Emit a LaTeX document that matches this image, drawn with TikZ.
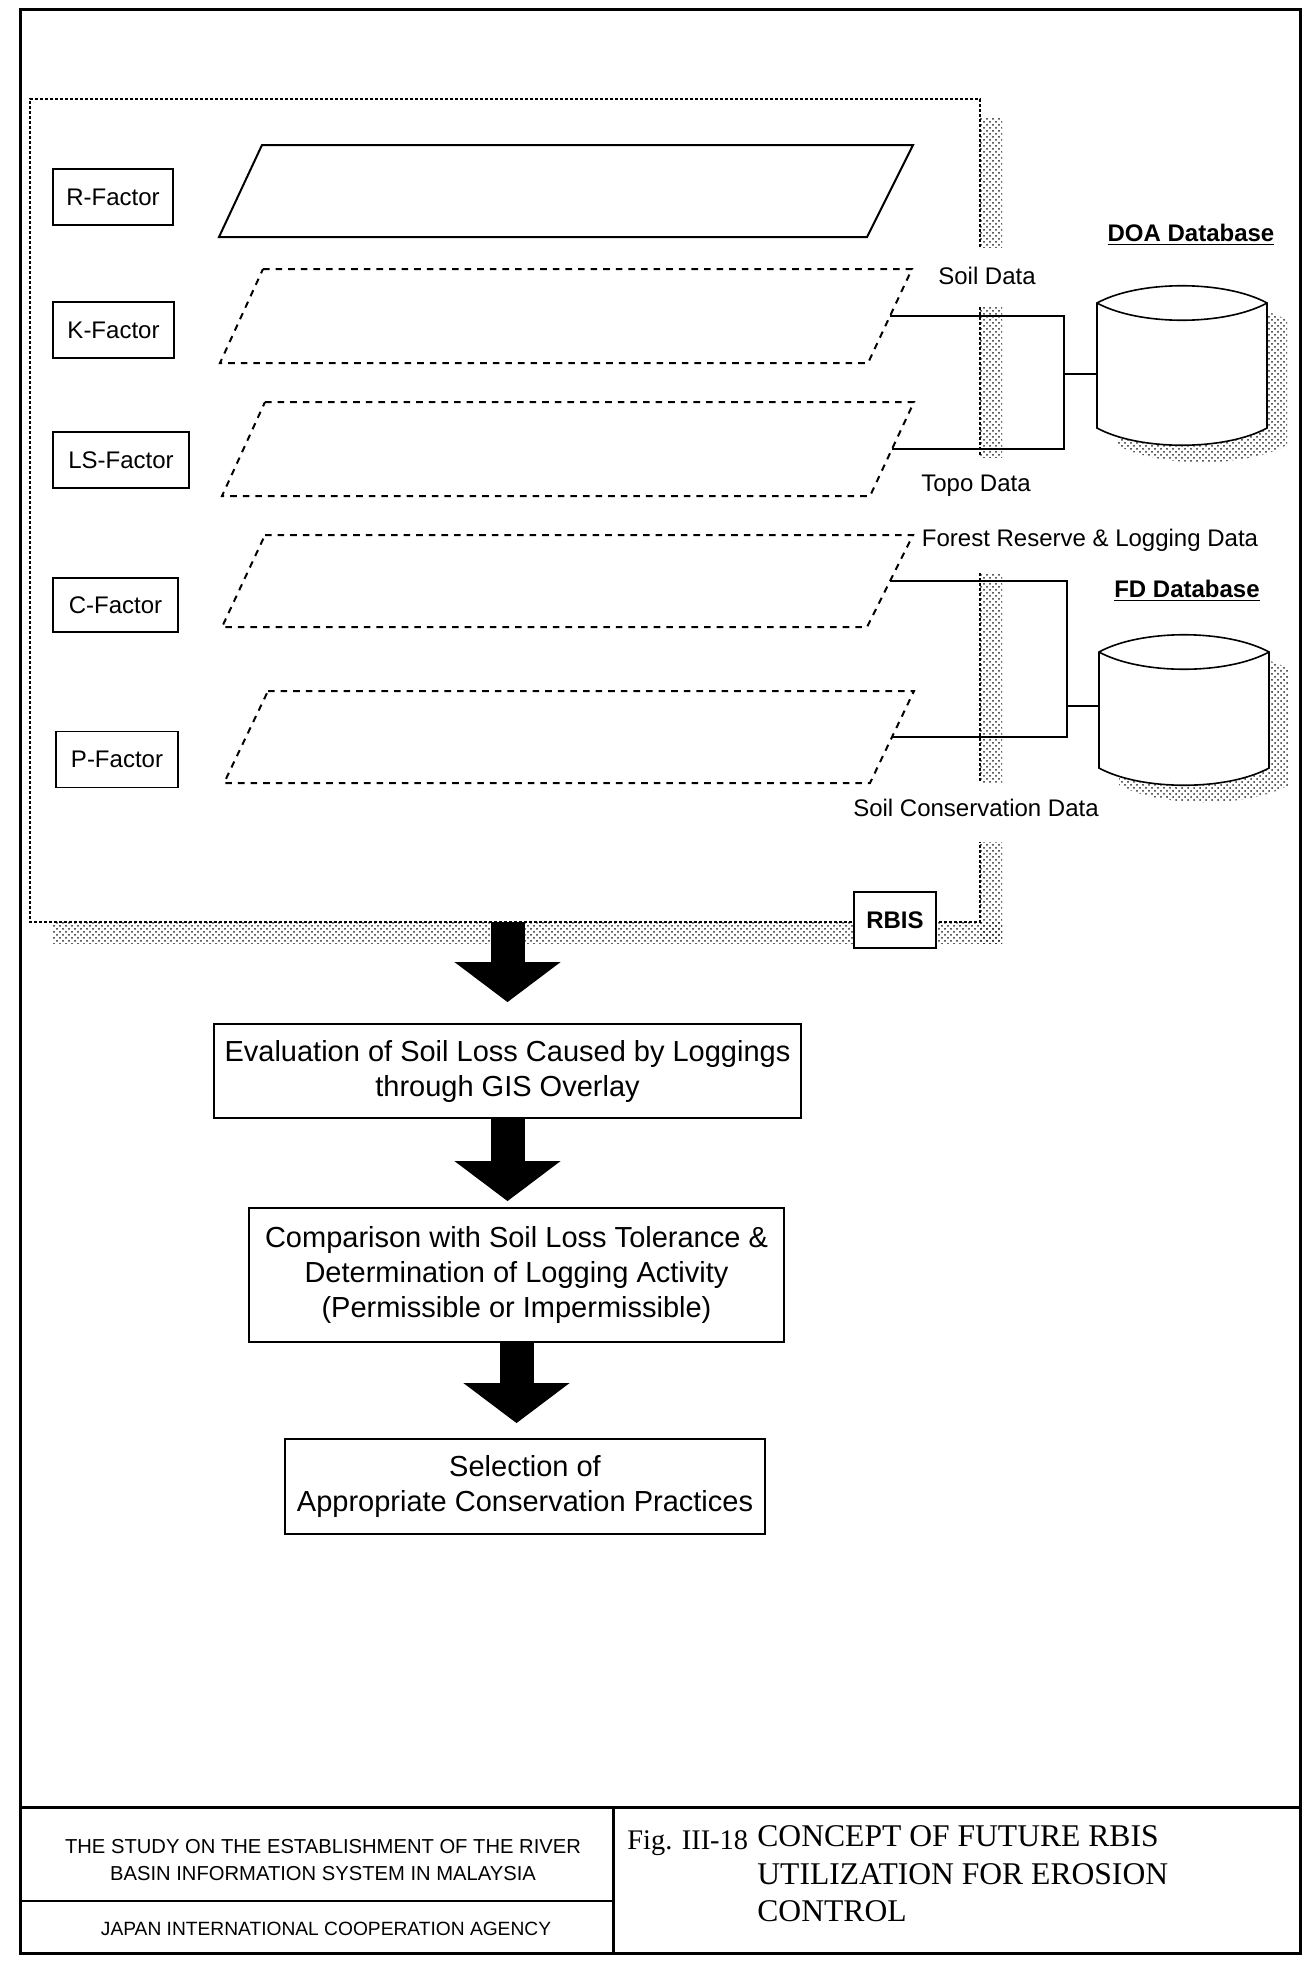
\documentclass[tikz,border=0pt]{standalone}
\usepackage{fontspec}
\setmainfont{Liberation Sans}
\newfontfamily\titlefont{Liberation Serif}
\usetikzlibrary{arrows.meta,positioning,patterns}

\begin{document}
\begin{tikzpicture}[
  x=0.5pt,y=-0.5pt,
  sheet/.style={draw=black, line width=1.5pt},
  rbisframe/.style={draw=black, line width=0.6pt, dash pattern=on 1.5pt off 1pt},
  stipple/.style={pattern=crosshatch dots, pattern color=black!85},
  factor/.style={draw=black, line width=0.7pt, minimum height=28pt, inner sep=2pt, font=\fontsize{12}{14}\selectfont},
  solidlayer/.style={draw=black, line width=1pt},
  dashlayer/.style={draw=black, line width=1pt, dash pattern=on 3.3pt off 3pt},
  link/.style={draw=black, line width=0.7pt},
  drum/.style={draw=black, line width=0.8pt, fill=white},
  datalabel/.style={font=\fontsize{12}{14}\selectfont, inner sep=0pt},
  dbhead/.style={font=\fontsize{12}{14}\selectfont\bfseries, inner sep=0pt},
  rbistag/.style={draw=black, line width=1pt, fill=white, minimum width=41pt, minimum height=28pt, font=\fontsize{12}{14}\selectfont\bfseries},
  stepbox/.style={draw=black, line width=0.9pt, fill=white, align=center, font=\fontsize{14.5}{17.5}\selectfont},
  bigarrow/.style={-{Triangle[length=20pt,width=52pt]}, line width=17pt},
  credit/.style={align=center, inner sep=0pt}
]
  \useasboundingbox (0,0) rectangle (1311,1964);

  \draw[sheet] (20,10) rectangle (1300,1953);
  \draw[sheet] (20,1807) -- (1300,1807);
  \draw[sheet] (613,1807) -- (613,1953);
  \draw[draw=black, line width=0.8pt] (20,1901) -- (613,1901);

  \fill[stipple] (53,922) rectangle (1002,943);
  \fill[stipple] (980,118) rectangle (1002,247);
  \fill[stipple] (980,307) rectangle (1002,457);
  \fill[stipple] (980,573) rectangle (1002,783);
  \fill[stipple] (980,842) rectangle (1002,943);
  \draw[rbisframe] (980,247) -- (980,99) -- (30,99) -- (30,922) -- (980,922) -- (980,842);
  \draw[rbisframe] (980,307) -- (980,457);
  \draw[rbisframe] (980,573) -- (980,783);

  \node[factor, minimum width=60pt] (rfac) at (113,197) {R-Factor};
  \node[factor, minimum width=60.5pt] (kfac) at (113.5,330) {K-Factor};
  \node[factor, minimum width=68pt] (lsfac) at (121,460) {LS-Factor};
  \node[factor, minimum width=62.5pt, minimum height=27pt] (cfac) at (115.5,605) {C-Factor};
  \node[factor, minimum width=61pt] (pfac) at (117,759.5) {P-Factor};

  \draw[solidlayer] (262,145) -- (913,145) -- (867,237) -- (219,237) -- cycle;
  \draw[dashlayer] (263,269) -- (912,269) -- (868,363) -- (220,363) -- cycle;
  \draw[dashlayer] (265,402) -- (914,402) -- (870,496) -- (222,496) -- cycle;
  \draw[dashlayer] (265,535) -- (913,535) -- (867,627) -- (222,627) -- cycle;
  \draw[dashlayer] (268,691) -- (914,691) -- (870,783) -- (224,783) -- cycle;

  \coordinate (kedge) at (890,316);
  \coordinate (lsedge) at (892,449);
  \coordinate (cedge) at (890,581);
  \coordinate (pedge) at (892,737);

  \fill[stipple] (1117,320) .. controls (1159,297) and (1245,297) .. (1287,320) -- (1287,445) .. controls (1245,468) and (1159,468) .. (1117,445) -- cycle;
  \draw[drum] (1097,303) .. controls (1139,280) and (1225,280) .. (1267,303) -- (1267,428) .. controls (1225,451) and (1139,451) .. (1097,428) -- cycle;
  \draw[drum, fill=none] (1097,303) .. controls (1139,326) and (1225,326) .. (1267,303);
  \coordinate (doaw) at (1097,365);

  \fill[stipple] (1119,669) .. controls (1161,646) and (1247,646) .. (1289,669) -- (1289,785) .. controls (1247,808) and (1161,808) .. (1119,785) -- cycle;
  \draw[drum] (1099,652) .. controls (1141,629) and (1227,629) .. (1269,652) -- (1269,768) .. controls (1227,791) and (1141,791) .. (1099,768) -- cycle;
  \draw[drum, fill=none] (1099,652) .. controls (1141,675) and (1227,675) .. (1269,652);
  \coordinate (fdw) at (1099,710);

  \coordinate (doabus) at (1064,374);
  \coordinate (fdbus) at (1067,706);
  \draw[link] (kedge) -| (doabus) |- (lsedge);
  \draw[link] (doabus) -- (doabus -| doaw);
  \draw[link] (cedge) -| (fdbus) |- (pedge);
  \draw[link] (fdbus) -- (fdbus -| fdw);

  \node[datalabel] (soil) at (987,276) {Soil Data};
  \node[datalabel] (topo) at (976,486) {Topo Data};
  \node[datalabel] (forest) at (1090,540) {Forest Reserve \& Logging Data};
  \node[datalabel] (scons) at (976,808) {Soil Conservation Data};
  \node[dbhead] (doahead) at (1191,235) {\underline{DOA Database}};
  \node[dbhead] (fdhead) at (1187,591) {\underline{FD Database}};

  \node[rbistag] (rbis) at (895,920) {RBIS};

  \node[stepbox, minimum width=293.5pt, minimum height=47pt] (eval) at (507.5,1071) {Evaluation of Soil Loss Caused by Loggings\\through GIS Overlay};
  \node[stepbox, minimum width=267.5pt, minimum height=67pt] (cmp) at (516.5,1275) {Comparison with Soil Loss Tolerance \&\\Determination of Logging Activity\\(Permissible or Impermissible)};
  \node[stepbox, minimum width=240pt, minimum height=47.5pt] (sel) at (525,1486.5) {Selection of\\Appropriate Conservation Practices};

  \coordinate (framefoot) at (507.5,922);
  \draw[bigarrow, shorten >=10.5pt] (framefoot) -- (eval.north);
  \draw[bigarrow, shorten >=3pt] (eval.south) -- (eval.south |- cmp.north);
  \draw[bigarrow, shorten >=7.5pt] (cmp.south) -- (cmp.south |- sel.north);

  \node[credit, font=\fontsize{10.1}{13.5}\selectfont] (study) at (323,1860.5) {THE STUDY ON THE ESTABLISHMENT OF THE RIVER\\BASIN INFORMATION SYSTEM IN MALAYSIA};
  \node[credit, font=\fontsize{9.6}{12}\selectfont] (jica) at (326,1929) {JAPAN INTERNATIONAL COOPERATION AGENCY};
  \node[anchor=base west, inner sep=0pt, font=\titlefont\fontsize{14.2}{16}\selectfont] (fignum) at (627,1849) {Fig. III-18};
  \node[anchor=west, align=left, inner sep=0pt, font=\titlefont\fontsize{15.8}{18.8}\selectfont] (figtitle) at (757,1874) {CONCEPT OF FUTURE RBIS\\UTILIZATION FOR EROSION\\CONTROL};
\end{tikzpicture}
\end{document}
